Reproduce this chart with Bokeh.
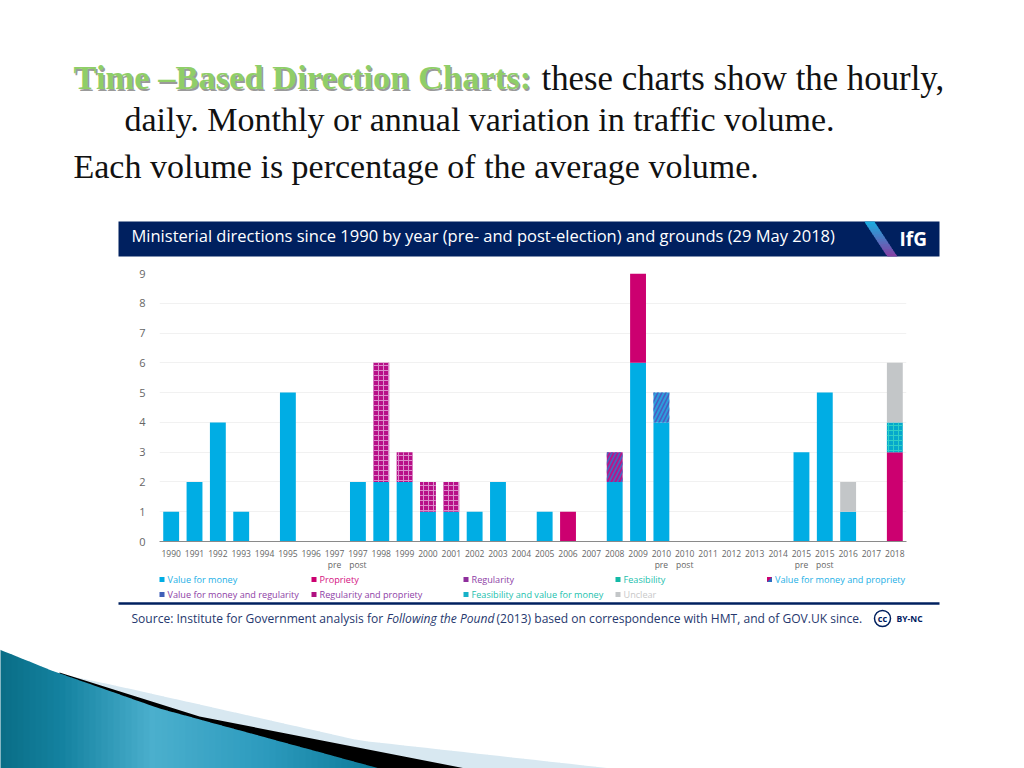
from bokeh.plotting import figure
from bokeh.layouts import column
from bokeh.models import Range1d, FactorRange, FixedTicker
from bokeh.core.properties import value
from bokeh.embed import file_html
from bokeh.resources import INLINE

# ---------- data ----------
categories = ["1990","1991","1992","1993","1994","1995","1996","1997\npre","1997\npost","1998","1999","2000",
              "2001","2002","2003","2004","2005","2006","2007","2008","2009","2010\npre","2010\npost","2011",
              "2012","2013","2014","2015\npre","2015\npost","2016","2017","2018"]
value_for_money =      [1,2,4,1,0,5,0,0,2,2,2,1,1,1,2,0,1,0,0,2,6,4,0,0,0,0,0,3,5,1,0,0]
propriety =            [0,0,0,0,0,0,0,0,0,0,0,0,0,0,0,0,0,1,0,0,3,0,0,0,0,0,0,0,0,0,0,3]
regularity =           [0]*32
feasibility =          [0]*32
vfm_and_propriety =    [0,0,0,0,0,0,0,0,0,0,0,0,0,0,0,0,0,0,0,1,0,0,0,0,0,0,0,0,0,0,0,0]
vfm_and_regularity =   [0,0,0,0,0,0,0,0,0,0,0,0,0,0,0,0,0,0,0,0,0,1,0,0,0,0,0,0,0,0,0,0]
reg_and_propriety =    [0,0,0,0,0,0,0,0,0,4,1,1,1,0,0,0,0,0,0,0,0,0,0,0,0,0,0,0,0,0,0,0]
feas_and_vfm =         [0,0,0,0,0,0,0,0,0,0,0,0,0,0,0,0,0,0,0,0,0,0,0,0,0,0,0,0,0,0,0,1]
unclear =              [0,0,0,0,0,0,0,0,0,0,0,0,0,0,0,0,0,0,0,0,0,0,0,0,0,0,0,0,0,1,0,2]
y_ticks = [0,1,2,3,4,5,6,7,8,9]

BLUE, MAG, PUR, TEAL, GREY = "#00ade4", "#cc0070", "#8e2e9c", "#13b9a6", "#c3c6c8"
NAVY = "#00205f"
SANS = value("Open Sans")
SERIF = value("Liberation Serif")

def canvas(y0, y1):
    p = figure(width=1016, height=y1-y0, x_range=Range1d(1,1017), y_range=Range1d(y1,y0),
               x_axis_type=None, y_axis_type=None, toolbar_location=None, output_backend="svg",
               min_border=0, outline_line_color=None, background_fill_color="white", border_fill_color="white")
    p.grid.visible = False
    return p

def lerp(a, b, t):
    return "#%02x%02x%02x" % tuple(round(a[i]+(b[i]-a[i])*t) for i in range(3))

# ---------- header ----------
h = canvas(0, 262)
def T(p, x, y, s, size, color, font=SANS, style="normal", align="left"):
    p.text([x],[y],text=[s],text_font=font,text_font_size=f"{size}px",text_color=color,
           text_font_style=style,text_baseline="middle",text_align=align)

T(h, 75.5, 78, "Time –Based Direction Charts:", 34.5, "#9a9a9a", SERIF, "bold")
T(h, 74, 76.5, "Time –Based Direction Charts:", 34.5, "#8fce68", SERIF, "bold")
T(h, 542, 78, "these charts show the hourly,", 34.8, "#111111", SERIF)
T(h, 125, 119, "daily. Monthly or annual variation in traffic volume.", 34, "#111111", SERIF)
T(h, 74, 166, "Each volume is percentage of the average volume.", 34, "#111111", SERIF)

h.quad(left=[119],right=[940],top=[221],bottom=[256],fill_color=NAVY,line_color=None)
T(h, 132, 235, "Ministerial directions since 1990 by year (pre- and post-election) and grounds (29 May 2018)", 16.5, "white")
n = 14
for i in range(n):
    t0, t1 = i/n, (i+1)/n
    y0, y1 = 221+35*t0, min(221+35*t1+0.7, 256)
    h.patch([865+23*t0, 875+23*t0, 875+23*t1, 865+23*t1],[y0,y0,y1,y1],
            fill_color=lerp((28,170,222),(138,58,160),t0),line_color=None)
T(h, 900, 238, "IfG", 19, "white", SANS, "bold")

# ---------- chart ----------
p = figure(width=1016, height=310, x_range=FactorRange(factors=categories, factor_padding=0, range_padding=0),
           y_range=Range1d(0,9), toolbar_location=None, output_backend="svg",
           min_border_left=159, min_border_right=110, min_border_top=11, min_border_bottom=31,
           frame_width=747, frame_height=268, outline_line_color=None)
names = ["vfm","prop","reg","feas","vfmprop","vfmreg","regprop","feasvfm","unclear"]
data = dict(cat=categories, vfm=value_for_money, prop=propriety, reg=regularity, feas=feasibility,
            vfmprop=vfm_and_propriety, vfmreg=vfm_and_regularity, regprop=reg_and_propriety,
            feasvfm=feas_and_vfm, unclear=unclear)
r = p.vbar_stack(names, x="cat", width=0.68, source=data, line_color=None,
             color=[BLUE, MAG, PUR, TEAL, "#b3188a", "#2c9ddc", "#b80f88", "#06a8cc", GREY],
             hatch_pattern=[None,None,None,None,"right_diagonal_line","right_diagonal_line","cross","cross",None],
             hatch_color=["white","white","white","white","#3f6cc4","#4a5cc0","#dc8ccb","#2fcfc6","white"],
             hatch_scale=[8,8,8,8,8,8,5,5,8], hatch_weight=[1,1,1,1,1.6,1.6,1,1,1])
p.ygrid.ticker = FixedTicker(ticks=y_ticks)
p.ygrid.grid_line_color = "#f1f1f1"
p.xgrid.visible = False
p.yaxis.ticker = FixedTicker(ticks=y_ticks)
p.yaxis.axis_line_color = None
p.yaxis.major_tick_line_color = None
p.yaxis.minor_tick_line_color = None
p.yaxis.major_label_text_font = "Open Sans"
p.yaxis.major_label_text_font_size = "11px"
p.yaxis.major_label_text_color = "#666666"
p.yaxis.major_label_standoff = 8
p.xaxis.axis_line_color = "#8a8a8a"
p.xaxis.axis_line_width = 1
p.xaxis.major_tick_line_color = None
p.xaxis.minor_tick_line_color = None
p.xaxis.major_label_orientation = "horizontal"
p.xaxis.major_label_text_font = "Open Sans"
p.xaxis.major_label_text_font_size = "8.5px"
p.xaxis.major_label_text_color = "#666666"
p.xaxis.major_label_text_line_height = 1.0
p.xaxis.major_label_standoff = 0

# ---------- footer ----------
f = canvas(572, 768)
legend_rows = [
    (162.5, 579, BLUE, None, "Value for money", "#1cb0e6"),
    (314.5, 579, MAG, None, "Propriety", "#d4117f"),
    (466.5, 579, PUR, None, "Regularity", "#8e3ea6"),
    (618.5, 579, TEAL, None, "Feasibility", "#22bfae"),
    (770, 579, "#2d6cc0", MAG, "Value for money and propriety", "#1cb0e6"),
    (162.5, 594, "#3f5fb8", None, "Value for money and regularity", "#8e3ea6"),
    (314.5, 594, "#b01080", None, "Regularity and propriety", "#8e3ea6"),
    (466.5, 594, "#16b1c8", None, "Feasibility and value for money", "#22bfae"),
    (618.5, 594, GREY, None, "Unclear", "#c8c8c8"),
]
for x, y, c, c2, s, tc in legend_rows:
    f.quad(left=[x-2.5],right=[x+2.5],top=[y-2.5],bottom=[y+2.5],fill_color=c,line_color=None)
    if c2:
        f.patch([x-2.5,x+2.5,x-2.5],[y-2.5,y-2.5,y+2.5],fill_color=c2,line_color=None)
    T(f, x+5.5, y, s, 9.15, tc, SANS)
f.segment([119],[603],[940],[603],line_color=NAVY,line_width=2.5)
T(f, 132, 618, "Source: Institute for Government analysis for", 12.05, "#26386e")
T(f, 387, 618, "Following the Pound", 12.05, "#26386e", SANS, "italic")
T(f, 497, 618, "(2013) based on correspondence with HMT, and of GOV.UK since.", 12.05, "#26386e")
f.scatter([883],[618],size=16,marker="circle",fill_color=None,line_color=NAVY,line_width=1.5)
T(f, 883, 617.5, "cc", 9, NAVY, SANS, "bold", "center")
T(f, 897, 618, "BY-NC", 8.5, NAVY, SANS, "bold")

# decoration
def edge(pts, x):
    for (x0,y0),(x1,y1) in zip(pts, pts[1:]):
        if x0 <= x <= x1:
            return y0+(y1-y0)*(x-x0)/(x1-x0)
    return pts[-1][1]
light_top = [(68,675),(120,686),(360,740),(612,768)]
black_top = [(60,672),(200,716),(466,768)]
teal_top = [(0,649),(52,670),(160,708),(380,768)]
for x in range(68, 612, 12):
    x1 = x+12.5
    f.patch([x,x1,x1,x],[edge(light_top,x),edge(light_top,x1),772,772],fill_color="#d8e8f1",line_color=None)
f.patch([q[0] for q in black_top]+[60],[q[1] for q in black_top]+[772],fill_color="black",line_color=None)
stops = [(0,(10,110,135)),(60,(20,130,160)),(150,(75,175,205)),(260,(45,155,190)),(382,(10,120,150))]
def grad(x):
    for (a,c0),(b,c1) in zip(stops,stops[1:]):
        if a <= x <= b:
            return lerp(c0,c1,(x-a)/(b-a))
    return lerp(stops[-1][1],stops[-1][1],0)
for x in range(0, 380, 6):
    x1 = min(x+6.5, 380)
    f.patch([x,x1,x1,x],[edge(teal_top,x),edge(teal_top,x1),772,772],fill_color=grad(x),line_color=None)

layout = column(column(h), column(p), column(f), spacing=0)
open("out.html", "w").write(file_html(layout, INLINE))
